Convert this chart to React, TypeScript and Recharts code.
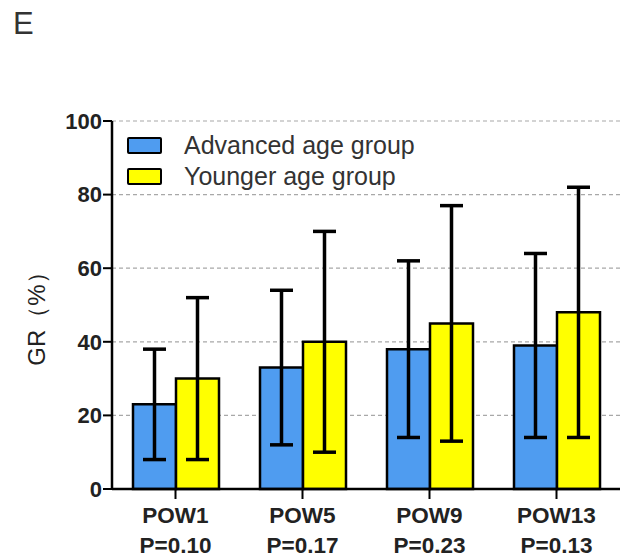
import React from 'react';
import { BarChart, Bar, XAxis, YAxis, CartesianGrid, ErrorBar } from 'recharts';

const categories = ['POW1', 'POW5', 'POW9', 'POW13'];
const pValues = ['P=0.10', 'P=0.17', 'P=0.23', 'P=0.13'];

const advancedMean = [23, 33, 38, 39];
const advancedLow = [8, 12, 14, 14];
const advancedHigh = [38, 54, 62, 64];

const youngerMean = [30, 40, 45, 48];
const youngerLow = [8, 10, 13, 14];
const youngerHigh = [52, 70, 77, 82];

const yTicks = [0, 20, 40, 60, 80, 100];

const BLUE = '#4f9cf0';
const YELLOW = '#ffff00';
const FONT = '"Liberation Sans", Arial, Helvetica, sans-serif';

const data = categories.map((name, i) => ({
  name,
  advanced: advancedMean[i],
  advancedErr: [advancedMean[i] - advancedLow[i], advancedHigh[i] - advancedMean[i]],
  younger: youngerMean[i],
  youngerErr: [youngerMean[i] - youngerLow[i], youngerHigh[i] - youngerMean[i]],
}));

const PowTick = (props: any) => {
  const { x, y, payload } = props;
  const i = payload.index;
  return (
    <g>
      <text x={x} y={y + 24} textAnchor="middle" fontSize={22.5} fontWeight="bold" fill="#222" fontFamily={FONT}>
        {categories[i]}
      </text>
      <text x={x} y={y + 54} textAnchor="middle" fontSize={22.5} fontWeight="bold" fill="#222" fontFamily={FONT}>
        {pValues[i]}
      </text>
    </g>
  );
};

const legendItems = [
  { label: 'Advanced age group', color: BLUE },
  { label: 'Younger age group', color: YELLOW },
];

export default function App() {
  return (
    <div style={{ position: 'absolute', left: 0, top: 0, width: 621, height: 557, background: '#fff', fontFamily: FONT }}>
      <BarChart
        width={621}
        height={557}
        data={data}
        margin={{ top: 121, right: 1, bottom: 0, left: 0 }}
        barCategoryGap={21}
        barGap={0}
      >
        <CartesianGrid vertical={false} stroke="#a8a8a8" strokeDasharray="4 3" strokeWidth={1.2} />
        <XAxis
          dataKey="name"
          height={68}
          tickSize={10}
          tickMargin={0}
          tick={<PowTick />}
          axisLine={{ stroke: '#000', strokeWidth: 2.5 }}
          tickLine={{ stroke: '#000', strokeWidth: 2 }}
        />
        <YAxis
          width={112}
          domain={[0, 100]}
          ticks={yTicks}
          tickSize={9}
          tickMargin={1}
          tick={{ fontSize: 22, fontWeight: 'bold', fill: '#222', fontFamily: FONT }}
          axisLine={{ stroke: '#000', strokeWidth: 2.5 }}
          tickLine={{ stroke: '#000', strokeWidth: 2 }}
        />
        <Bar dataKey="advanced" fill={BLUE} stroke="#000" strokeWidth={2.5} isAnimationActive={false}>
          <ErrorBar dataKey="advancedErr" direction="y" width={11.5} stroke="#000" strokeWidth={3.5} />
        </Bar>
        <Bar dataKey="younger" fill={YELLOW} stroke="#000" strokeWidth={2.5} isAnimationActive={false}>
          <ErrorBar dataKey="youngerErr" direction="y" width={11.5} stroke="#000" strokeWidth={3.5} />
        </Bar>
      </BarChart>
      <div style={{ position: 'absolute', left: 13, top: 6, fontSize: 31, color: '#333' }}>E</div>
      <div
        style={{
          position: 'absolute',
          left: 37,
          top: 313,
          transform: 'translate(-50%, -50%) rotate(-90deg)',
          fontSize: 24,
          color: '#222',
          whiteSpace: 'nowrap',
        }}
      >
        GR（%）
      </div>
      <div style={{ position: 'absolute', left: 127, top: 130 }}>
        {legendItems.map((it) => (
          <div key={it.label} style={{ display: 'flex', alignItems: 'center', height: 31 }}>
            <div style={{ width: 31, height: 13, background: it.color, border: '2.5px solid #000', borderRadius: 2 }} />
            <span style={{ marginLeft: 22, fontSize: 25, color: '#333', lineHeight: '31px' }}>{it.label}</span>
          </div>
        ))}
      </div>
    </div>
  );
}
